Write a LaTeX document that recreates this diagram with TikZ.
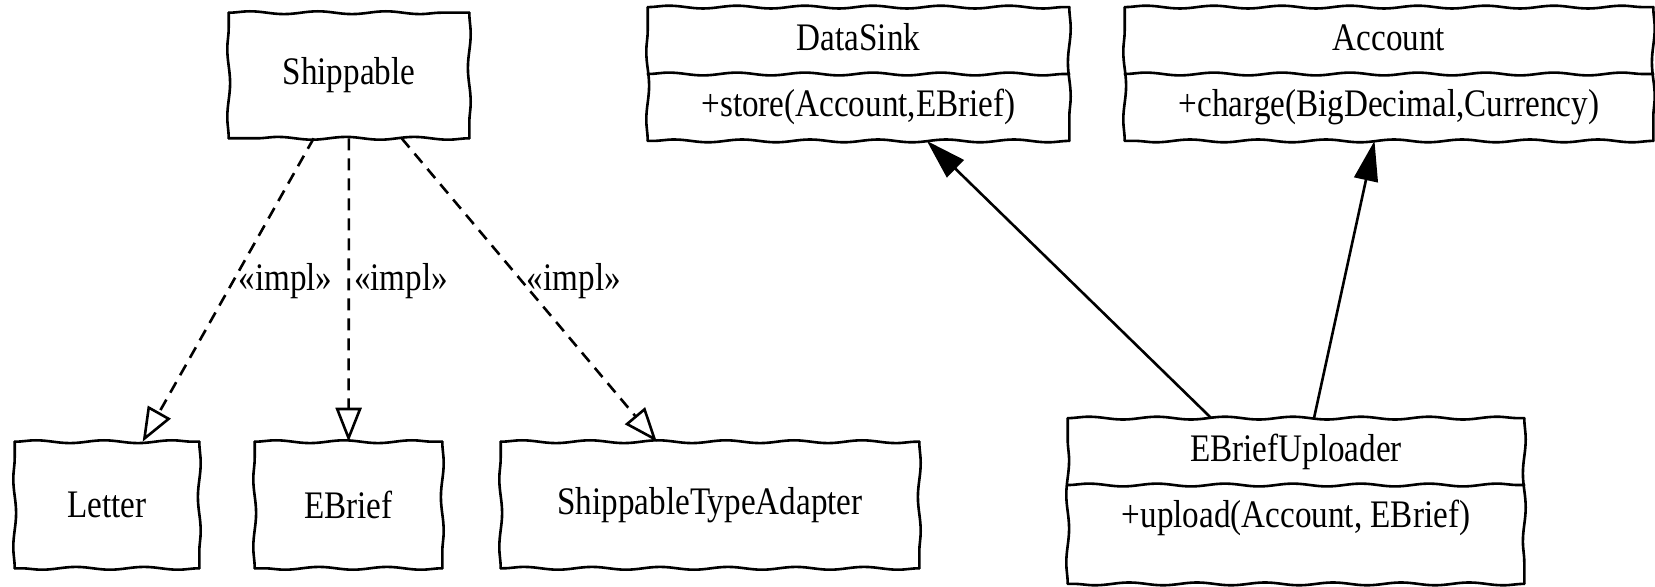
\documentclass[tikz,border=0pt]{standalone}
\usepackage{fontspec}
\setmainfont{Liberation Serif}[FakeStretch=0.85]
\usetikzlibrary{
  arrows.meta,
  shapes.multipart,         % "rectangle split" for the class boxes
  decorations.pathmorphing, % "snake" for the hand drawn borders
}
% hand drawn outline of a box, one side at a time
\newcommand{\sketchbox}[1]{
  \draw[sketchy] (#1.north west) -- (#1.north east);
  \draw[sketchy] (#1.north east) -- (#1.south east);
  \draw[sketchy] (#1.south east) -- (#1.south west);
  \draw[sketchy] (#1.south west) -- (#1.north west);
}
\newcommand{\sketchsplit}[1]{
  \draw[sketchy] (#1.text split west) -- (#1.text split east);
}
\tikzset{
  font=\fontsize{19.5}{23.4}\selectfont,
  sketchy/.style={
    line cap=round,
    decorate,
    decoration={snake, segment length=34pt, amplitude=0.7pt}
  },
  my box/.style={
    inner sep=0pt,
    rectangle
  },
  my class/.style={
    my box,
    rectangle split,
    rectangle split parts=2,
    inner xsep=4pt,
    inner ysep=4.05pt
  },
  impl/.style={
    dash pattern=on 6pt off 4pt,
    -{Triangle[open,length=17pt,width=13pt]}
  },
  assoc/.style={
    -{Triangle[length=20pt,width=12pt]}
  },
  my label/.style={
    right,
    inner sep=2pt,
    pos=0.47
  }
}

\begin{document}
\begin{tikzpicture}[x=0.5pt,y=-0.5pt,line width=1.3pt]
\useasboundingbox (0,0) rectangle (1655,587);
% interface and its implementations
\node[my box,minimum width=119pt,minimum height=61.5pt] (shippable) at (349,75.5) {Shippable};
\node[my box,minimum width=91pt,minimum height=62pt]    (letter)    at (107,505)  {Letter};
\node[my box,minimum width=92.5pt,minimum height=62pt]  (ebrief)    at (348.5,505) {EBrief};
\node[my box,minimum width=208pt,minimum height=62pt]   (adapter)   at (710,505)  {ShippableTypeAdapter};
% classes with operations
\node[my class,minimum width=209.5pt] (datasink) at (858.5,74)
  {\strut DataSink\nodepart{two}\strut +store(Account,EBrief)};
\node[my class,minimum width=263pt] (account) at (1389,74)
  {\strut Account\nodepart{two}\strut +charge(BigDecimal,Currency)};
\node[my class,minimum width=227pt] (uploader) at (1296,501)
  {\strut EBriefUploader\nodepart{two}\strut +upload(Account, EBrief)\rule[-23pt]{0pt}{0pt}};

\foreach \n in {shippable,letter,ebrief,adapter,datasink,account,uploader}
  \sketchbox{\n};
\foreach \n in {datasink,account,uploader}
  \sketchsplit{\n};

\draw[impl] (shippable) -- node[my label] {«impl»} (letter);
\draw[impl] (shippable) -- node[my label] {«impl»} (ebrief);
\draw[impl] (shippable) -- node[my label] {«impl»} (adapter);
\draw[assoc] (uploader) -- (datasink);
\draw[assoc] (uploader) -- (account);
\end{tikzpicture}
\end{document}
